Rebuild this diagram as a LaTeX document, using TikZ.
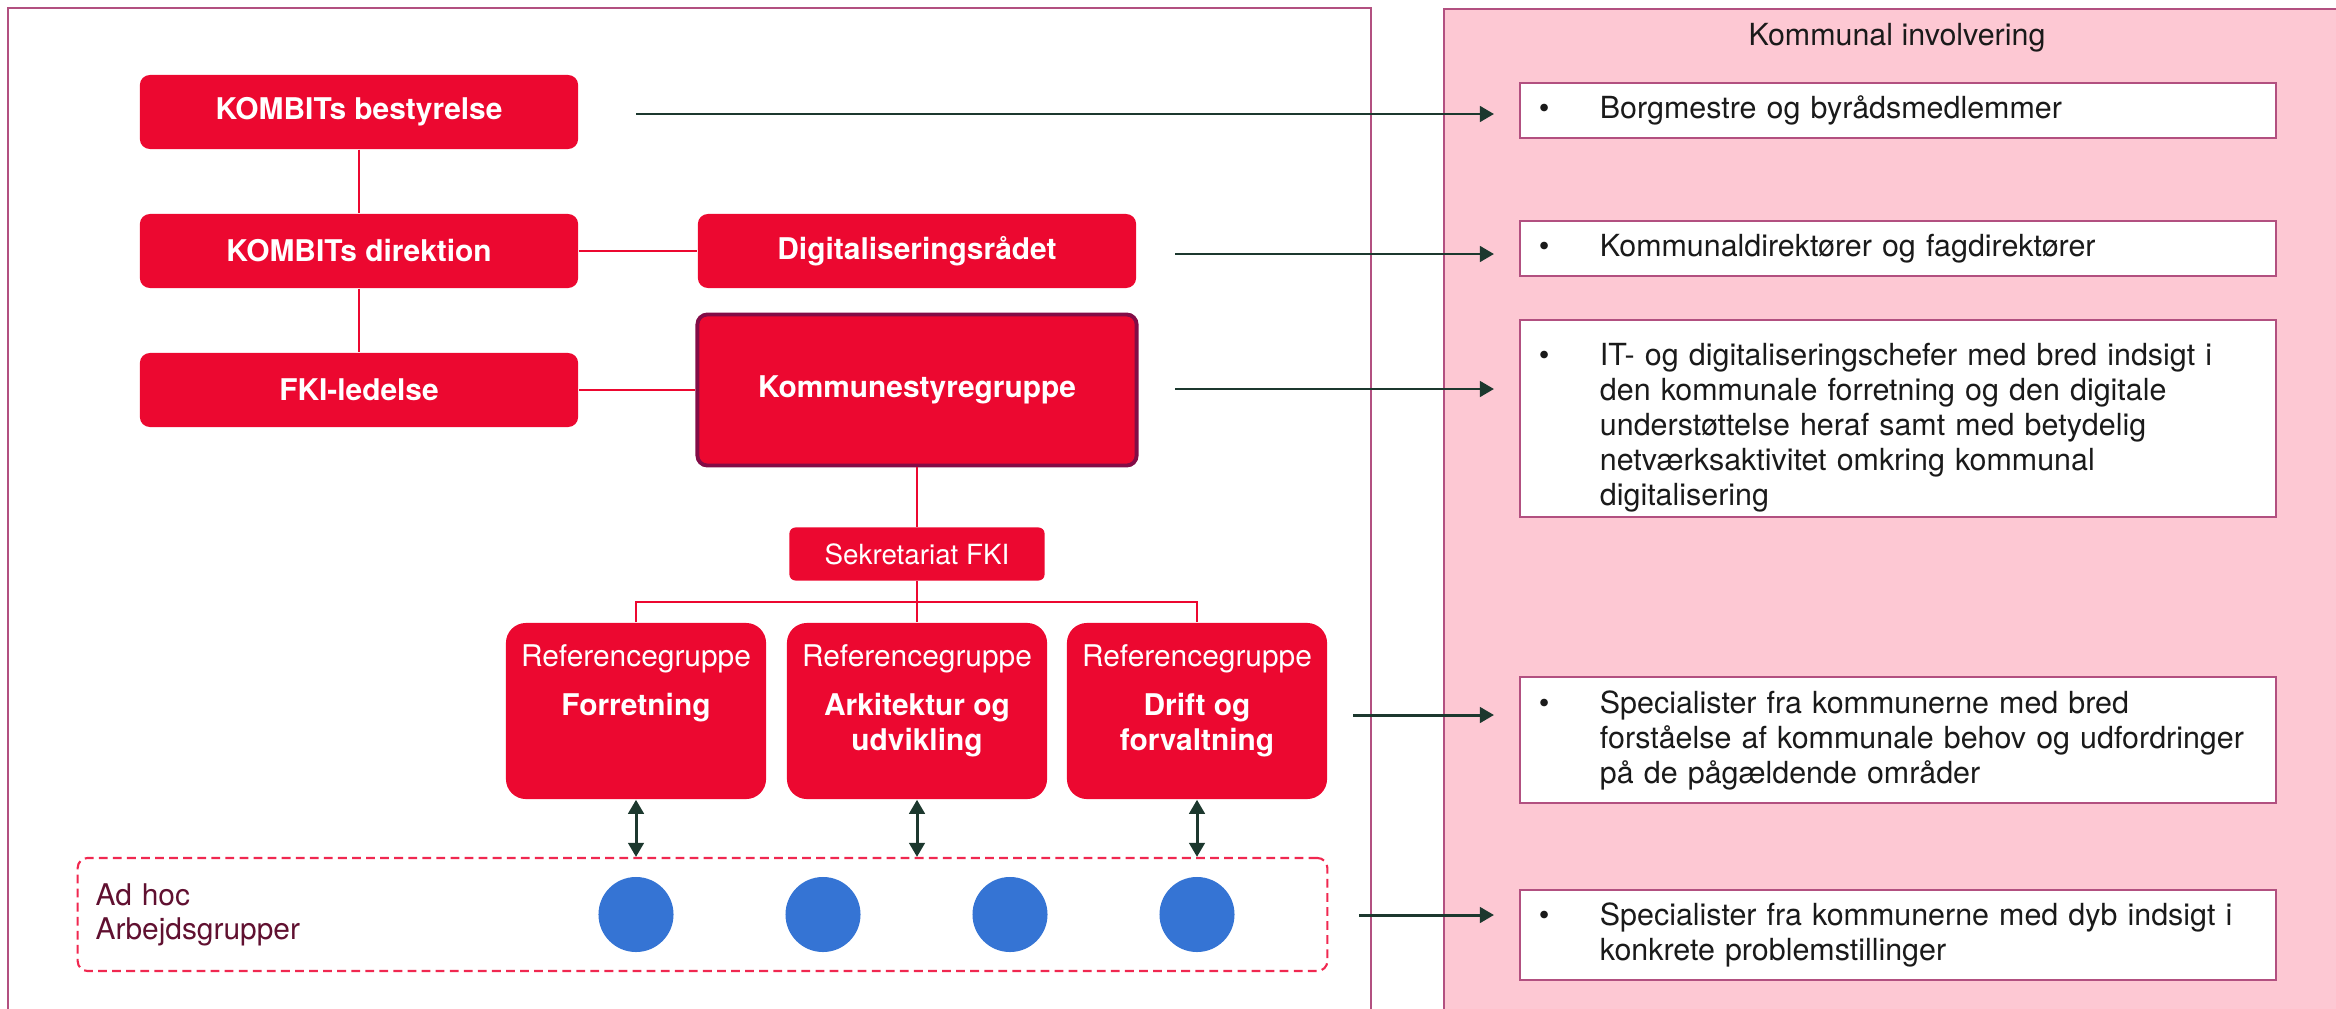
\documentclass[tikz,border=0pt]{standalone}
\usepackage{fontspec}
\setmainfont{TeX Gyre Heros}
\usepackage{tikz}
\usetikzlibrary{arrows.meta}

\definecolor{kred}{RGB}{236,8,48}
\definecolor{kdash}{RGB}{240,40,80}
\definecolor{kdark}{RGB}{28,56,46}
\definecolor{kframe}{RGB}{178,80,128}
\definecolor{kpink}{RGB}{253,200,211}
\definecolor{kmaroon}{RGB}{130,12,70}
\definecolor{kblue}{RGB}{53,116,212}
\definecolor{kwine}{RGB}{96,16,48}
\definecolor{kink}{RGB}{26,26,26}

\newcommand{\bulit}[1]{\makebox[0.61cm][l]{\textbullet}\parbox[t]{6.57cm}{#1}}
\newcommand{\refgrp}[1]{\parbox[c][1.76cm][t]{2.6cm}{\centering\rule{0pt}{0.44cm}Referencegruppe\\[0.13cm]\textbf{#1}}}

\tikzset{
    redbox/.style={rectangle,rounded corners=0.1cm,fill=kred,text=white,inner sep=0pt,
        minimum width=4.38cm,minimum height=0.74cm,font=\fontsize{8.5}{10}\selectfont\bfseries},
    refbox/.style={redbox,rounded corners=0.2cm,minimum width=2.6cm,minimum height=1.76cm,
        font=\fontsize{8.5}{10}\selectfont},
    invbox/.style={rectangle,draw=kframe,line width=0.5pt,fill=white,anchor=west,text=kink,
        text width=7.18cm,inner xsep=0.19cm,inner ysep=0pt,align=left,
        font=\fontsize{8.65}{9.96}\selectfont},
    blob/.style={circle,fill=kblue,minimum size=0.75cm,inner sep=0pt},
    link/.style={kred,line width=0.6pt},
    arr/.style={kdark,line width=0.85pt,-{Triangle[length=4pt,width=4.4pt]},shorten >=0.25cm},
    darr/.style={kdark,line width=0.85pt,{Triangle[length=4pt,width=4.4pt]}-{Triangle[length=4pt,width=4.4pt]}}
}

\begin{document}
\begin{tikzpicture}[x=0.01cm,y=-0.01cm]
        \useasboundingbox (0,0) rectangle (2336,1009);
        % panels
        \draw[kframe,line width=0.5pt] (8,1009) -- (8,8) -- (1371,8) -- (1371,1009);
        \fill[kpink] (1444,9) rectangle (2336,1009);
        \draw[kframe,line width=0.5pt] (1444,1009) -- (1444,9) -- (2336,9);
        \node[text=kink,font=\fontsize{8.65}{10}\selectfont] (title) at (1897,38) {Kommunal involvering};

        % organisation
        \node[redbox] (best) at (359,112) {KOMBITs bestyrelse};
        \node[redbox] (dir) at (359,251) {KOMBITs direktion};
        \node[redbox] (fki) at (359,390) {FKI-ledelse};
        \node[redbox] (digi) at (917,251) {Digitaliseringsrådet};
        \node[redbox,draw=kmaroon,line width=1.1pt,minimum width=4.39cm,minimum height=1.51cm] (styr) at (917,390) {Kommunestyregruppe};
        \node[redbox,rounded corners=0.06cm,minimum width=2.55cm,minimum height=0.53cm,
            font=\fontsize{7.9}{9.5}\selectfont] (sek) at (917,554) {Sekretariat FKI};
        \node[refbox] (forr) at (636,711) {\refgrp{Forretning}};
        \node[refbox] (ark) at (917,711) {\refgrp{Arkitektur og\\udvikling}};
        \node[refbox] (drift) at (1197,711) {\refgrp{Drift og\\forvaltning}};

        \draw[link] (best) -- (dir);
        \draw[link] (dir) -- (fki);
        \draw[link] (dir) -- (digi);
        \draw[link] (fki) -- (styr);
        \draw[link] (styr) -- (sek);
        \draw[link] (sek) -- (ark);
        \coordinate (br) at (917,602);
        \draw[link] (forr) |- (br) -| (drift);

        % ad hoc
        \node[draw=kdash,line width=0.6pt,dash pattern=on 2.5pt off 1.5pt,rounded corners=0.1cm,
            minimum width=12.49cm,minimum height=1.13cm,text width=12.13cm,inner xsep=0.18cm,
            align=left,text=kwine,font=\fontsize{8.5}{9.7}\selectfont] (adhoc) at (702.5,914.5) {Ad hoc\\Arbejdsgrupper};
        \foreach \x [count=\i] in {636,823,1010,1197}
            \node[blob] (c\i) at (\x,914.5) {};

        \draw[darr] (forr) -- (forr |- adhoc.north);
        \draw[darr] (ark) -- (ark |- adhoc.north);
        \draw[darr] (drift) -- (drift |- adhoc.north);

        % kommunal involvering
        \node[invbox,minimum height=0.55cm] (inv1) at (1519,110.5) {\bulit{Borgmestre og byrådsmedlemmer}};
        \node[invbox,minimum height=0.55cm] (inv2) at (1519,248.5) {\bulit{Kommunaldirektører og fagdirektører}};
        \node[invbox,minimum height=1.97cm] (inv3) at (1519,418.5) {\bulit{\rule{0pt}{0.4cm}IT- og digitaliseringschefer med bred indsigt i\\den kommunale forretning og den digitale\\understøttelse heraf samt med betydelig\\netværksaktivitet omkring kommunal\\digitalisering}};
        \node[invbox,minimum height=1.26cm] (inv4) at (1519,740) {\bulit{Specialister fra kommunerne med bred\\forståelse af kommunale behov og udfordringer\\på de pågældende områder}};
        \node[invbox,minimum height=0.9cm] (inv5) at (1519,935) {\bulit{Specialister fra kommunerne med dyb indsigt i\\konkrete problemstillinger}};

        \coordinate (s1) at (636,114);
        \coordinate (s2) at (1175,254);
        \coordinate (s3) at (1175,389);
        \coordinate (s4) at (1353,715);
        \coordinate (s5) at (1359,915);
        \foreach \i in {1,...,5}
            \draw[arr] (s\i) -- (s\i -| inv\i.west);
\end{tikzpicture}
\end{document}
